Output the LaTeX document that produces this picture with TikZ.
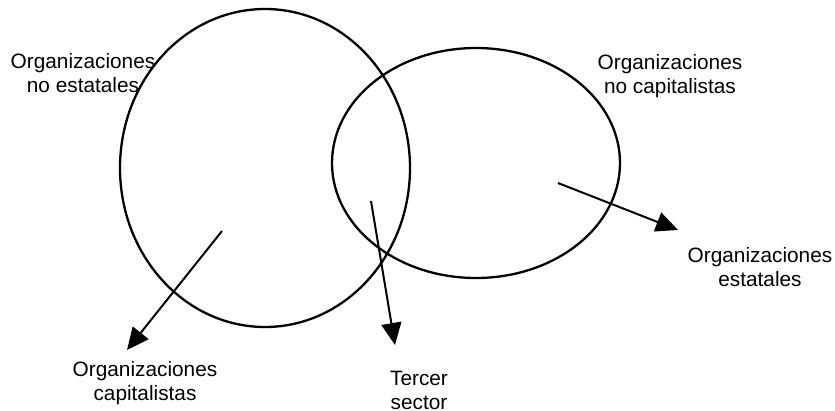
\documentclass[tikz,border=0pt]{standalone}
\usepackage{fontspec}
\setmainfont{Liberation Sans}
\usetikzlibrary{arrows.meta}
\tikzset{
  set/.style={line width=2.3pt},
  label/.style={align=center, inner sep=0pt, font=\fontsize{20.8pt}{24pt}\selectfont},
  pointer/.style={line width=2pt, -{Triangle[length=22pt,width=20pt]}}
}
\begin{document}
\begin{tikzpicture}[x=1pt,y=-1pt]
\useasboundingbox (0,0) rectangle (835,410);

% the two sets
\draw[set] (265,168) ellipse [x radius=145pt, y radius=159pt];
\draw[set] (476,163) ellipse [x radius=144pt, y radius=115pt];

% labels
\node[label] (noest) at (83,73) {Organizaciones\\no estatales};
\node[label] (nocap) at (670,76) {Organizaciones\\no capitalistas};
\node[label] (est) at (760,267) {Organizaciones\\estatales};
\node[label] (cap) at (145,383) {Organizaciones\\capitalistas};
\node[label] (tercer) at (419,390) {Tercer\\sector};

% arrow ends
\coordinate (capfrom) at (222,231);
\coordinate (capto) at (127,350);
\coordinate (terfrom) at (371,201);
\coordinate (terto) at (395,345);
\coordinate (estfrom) at (558,183);
\coordinate (estto) at (678,230);

\draw[pointer] (capfrom) -- (capto);
\draw[pointer] (terfrom) -- (terto);
\draw[pointer] (estfrom) -- (estto);
\end{tikzpicture}
\end{document}
